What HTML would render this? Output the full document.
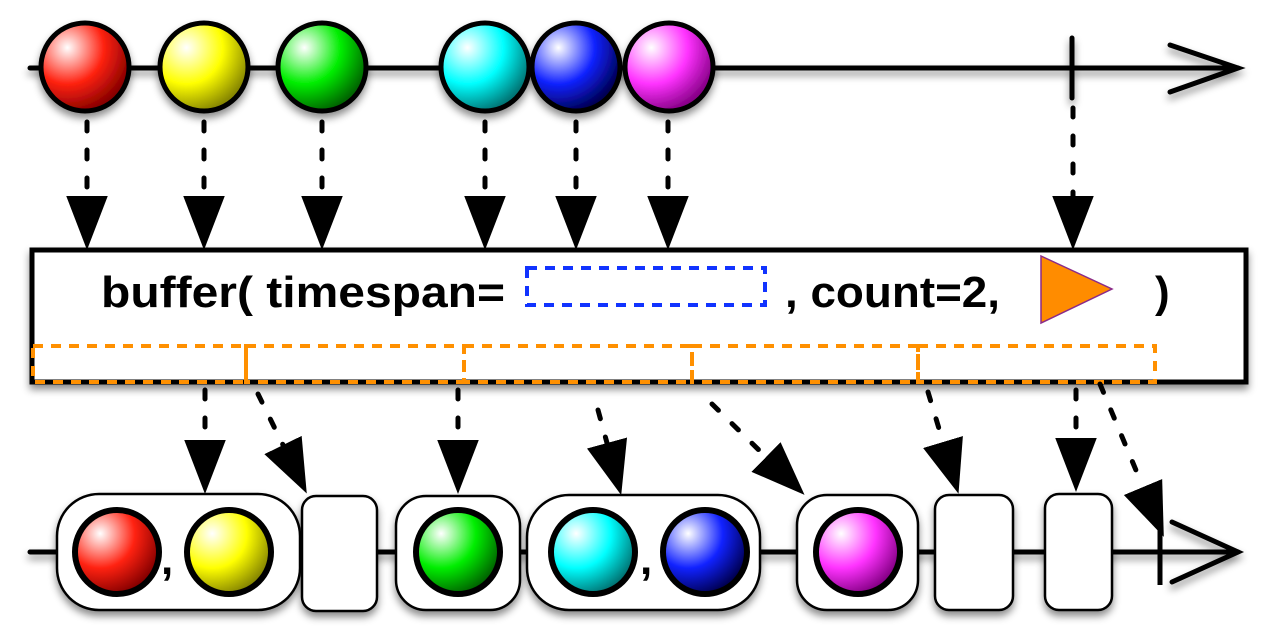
<!DOCTYPE html>
<html><head><meta charset="utf-8"><style>
html,body{margin:0;padding:0;background:#fff;width:1280px;height:640px;overflow:hidden}
</style></head><body>
<svg width="1280" height="640" viewBox="0 0 1280 640" xmlns="http://www.w3.org/2000/svg">
<defs>
<filter id="sh" x="-20%" y="-20%" width="140%" height="150%"><feDropShadow dx="0" dy="5" stdDeviation="4" flood-color="#000" flood-opacity="0.45"/></filter>
<marker id="ah" markerUnits="userSpaceOnUse" markerWidth="54" markerHeight="42" viewBox="0 0 52 40" refX="0" refY="20" orient="auto"><path d="M0,0 L52,20 L0,40 z" fill="#000"/></marker>
<radialGradient id="gr" cx="30%" cy="28%" r="75%"><stop offset="0" stop-color="#fff"/><stop offset=".55" stop-color="#f21"/><stop offset="1" stop-color="#800"/></radialGradient>
<radialGradient id="gy" cx="30%" cy="28%" r="75%"><stop offset="0" stop-color="#fff"/><stop offset=".55" stop-color="#ff0"/><stop offset="1" stop-color="#880"/></radialGradient>
<radialGradient id="gg" cx="30%" cy="28%" r="75%"><stop offset="0" stop-color="#fff"/><stop offset=".55" stop-color="#0e0"/><stop offset="1" stop-color="#060"/></radialGradient>
<radialGradient id="gc" cx="30%" cy="28%" r="75%"><stop offset="0" stop-color="#fff"/><stop offset=".55" stop-color="#0ff"/><stop offset="1" stop-color="#077"/></radialGradient>
<radialGradient id="gb" cx="30%" cy="28%" r="75%"><stop offset="0" stop-color="#fff"/><stop offset=".55" stop-color="#12f"/><stop offset="1" stop-color="#005"/></radialGradient>
<radialGradient id="gm" cx="30%" cy="28%" r="75%"><stop offset="0" stop-color="#fff"/><stop offset=".55" stop-color="#f3f"/><stop offset="1" stop-color="#808"/></radialGradient>
</defs>

<g filter="url(#sh)" stroke="#000" stroke-width="5" fill="none" stroke-linecap="round">
<line x1="30" y1="68" x2="1238" y2="68"/>
<polyline points="1170,45 1238,68 1170,92"/>
<line x1="1072" y1="38" x2="1072" y2="98"/>
</g>
<g stroke="#000" stroke-width="5" filter="url(#sh)">
<circle cx="85" cy="67" r="44" fill="url(#gr)"/>
<circle cx="204" cy="67" r="44" fill="url(#gy)"/>
<circle cx="322" cy="67" r="44" fill="url(#gg)"/>
<circle cx="485" cy="67" r="44" fill="url(#gc)"/>
<circle cx="576" cy="67" r="44" fill="url(#gb)"/>
<circle cx="669" cy="67" r="44" fill="url(#gm)"/>
</g>

<g stroke="#000" stroke-width="5" stroke-dasharray="9 19" stroke-linecap="round" marker-end="url(#ah)">
<line x1="87" y1="122" x2="87" y2="196"/>
<line x1="204" y1="122" x2="204" y2="196"/>
<line x1="322" y1="122" x2="322" y2="196"/>
<line x1="485" y1="122" x2="485" y2="196"/>
<line x1="576" y1="122" x2="576" y2="196"/>
<line x1="668" y1="122" x2="668" y2="196"/>
<line x1="1073" y1="108" x2="1073" y2="196"/>
</g>

<rect x="32" y="250" width="1214" height="132" fill="#fff" stroke="#000" stroke-width="5" filter="url(#sh)"/>
<text x="101" y="307" font-family="Liberation Sans, sans-serif" font-weight="bold" font-size="44" textLength="404" lengthAdjust="spacingAndGlyphs" fill="#000">buffer( timespan=</text>
<rect x="527" y="268" width="238" height="37" fill="none" stroke="#1133ff" stroke-width="4" stroke-dasharray="10 8"/>
<text x="785" y="307" font-family="Liberation Sans, sans-serif" font-weight="bold" font-size="44" textLength="215" lengthAdjust="spacingAndGlyphs" fill="#000">, count=2,</text>
<polygon points="1041,256 1041,323 1112,289" fill="#ff8c00" stroke="#8a2b8a" stroke-width="1.5"/>
<text x="1155" y="307" font-family="Liberation Sans, sans-serif" font-weight="bold" font-size="44" fill="#000">)</text>
<g fill="none" stroke="#ff9000" stroke-width="4" stroke-dasharray="10 8">
<rect x="33" y="346" width="213" height="36"/>
<rect x="246" y="346" width="218" height="36"/>
<rect x="464" y="346" width="228" height="36"/>
<rect x="692" y="346" width="226" height="36"/>
<rect x="918" y="346" width="237" height="36"/>
</g>

<g filter="url(#sh)" stroke="#000" stroke-width="5" fill="none" stroke-linecap="round">
<line x1="30" y1="552" x2="1238" y2="552"/>
<polyline points="1172,522 1238,552 1172,582"/>
</g>
<g stroke="#000" stroke-width="2.5" fill="#fff" filter="url(#sh)">
<rect x="57" y="494" width="243" height="116" rx="42"/>
<rect x="302" y="496" width="75" height="115" rx="14"/>
<rect x="396" y="496" width="124" height="114" rx="30"/>
<rect x="527" y="495" width="233" height="115" rx="42"/>
<rect x="797" y="495" width="121" height="115" rx="30"/>
<rect x="935" y="495" width="78" height="115" rx="14"/>
<rect x="1045" y="494" width="67" height="116" rx="14"/>
</g>
<line x1="1160" y1="518" x2="1160" y2="585" stroke="#000" stroke-width="5"/>
<g stroke="#000" stroke-width="6">
<circle cx="117" cy="552" r="42" fill="url(#gr)"/>
<circle cx="229" cy="552" r="42" fill="url(#gy)"/>
<circle cx="458" cy="552" r="42" fill="url(#gg)"/>
<circle cx="593" cy="552" r="42" fill="url(#gc)"/>
<circle cx="705" cy="552" r="42" fill="url(#gb)"/>
<circle cx="858" cy="552" r="42" fill="url(#gm)"/>
</g>
<text x="161" y="574" font-family="Liberation Sans, sans-serif" font-weight="bold" font-size="44">,</text>
<text x="640" y="574" font-family="Liberation Sans, sans-serif" font-weight="bold" font-size="44">,</text>

<g stroke="#000" stroke-width="5" stroke-dasharray="9 19" stroke-linecap="round" marker-end="url(#ah)">
<line x1="205" y1="390" x2="205" y2="440"/>
<line x1="258" y1="394" x2="283" y2="445"/>
<line x1="458" y1="390" x2="458" y2="440"/>
<line x1="598" y1="410" x2="607" y2="443"/>
<line x1="712" y1="404" x2="766" y2="457"/>
<line x1="928" y1="392" x2="943" y2="442"/>
<line x1="1076" y1="390" x2="1076" y2="438"/>
<line x1="1100" y1="384" x2="1143" y2="487"/>
</g>
</svg>
</body></html>
